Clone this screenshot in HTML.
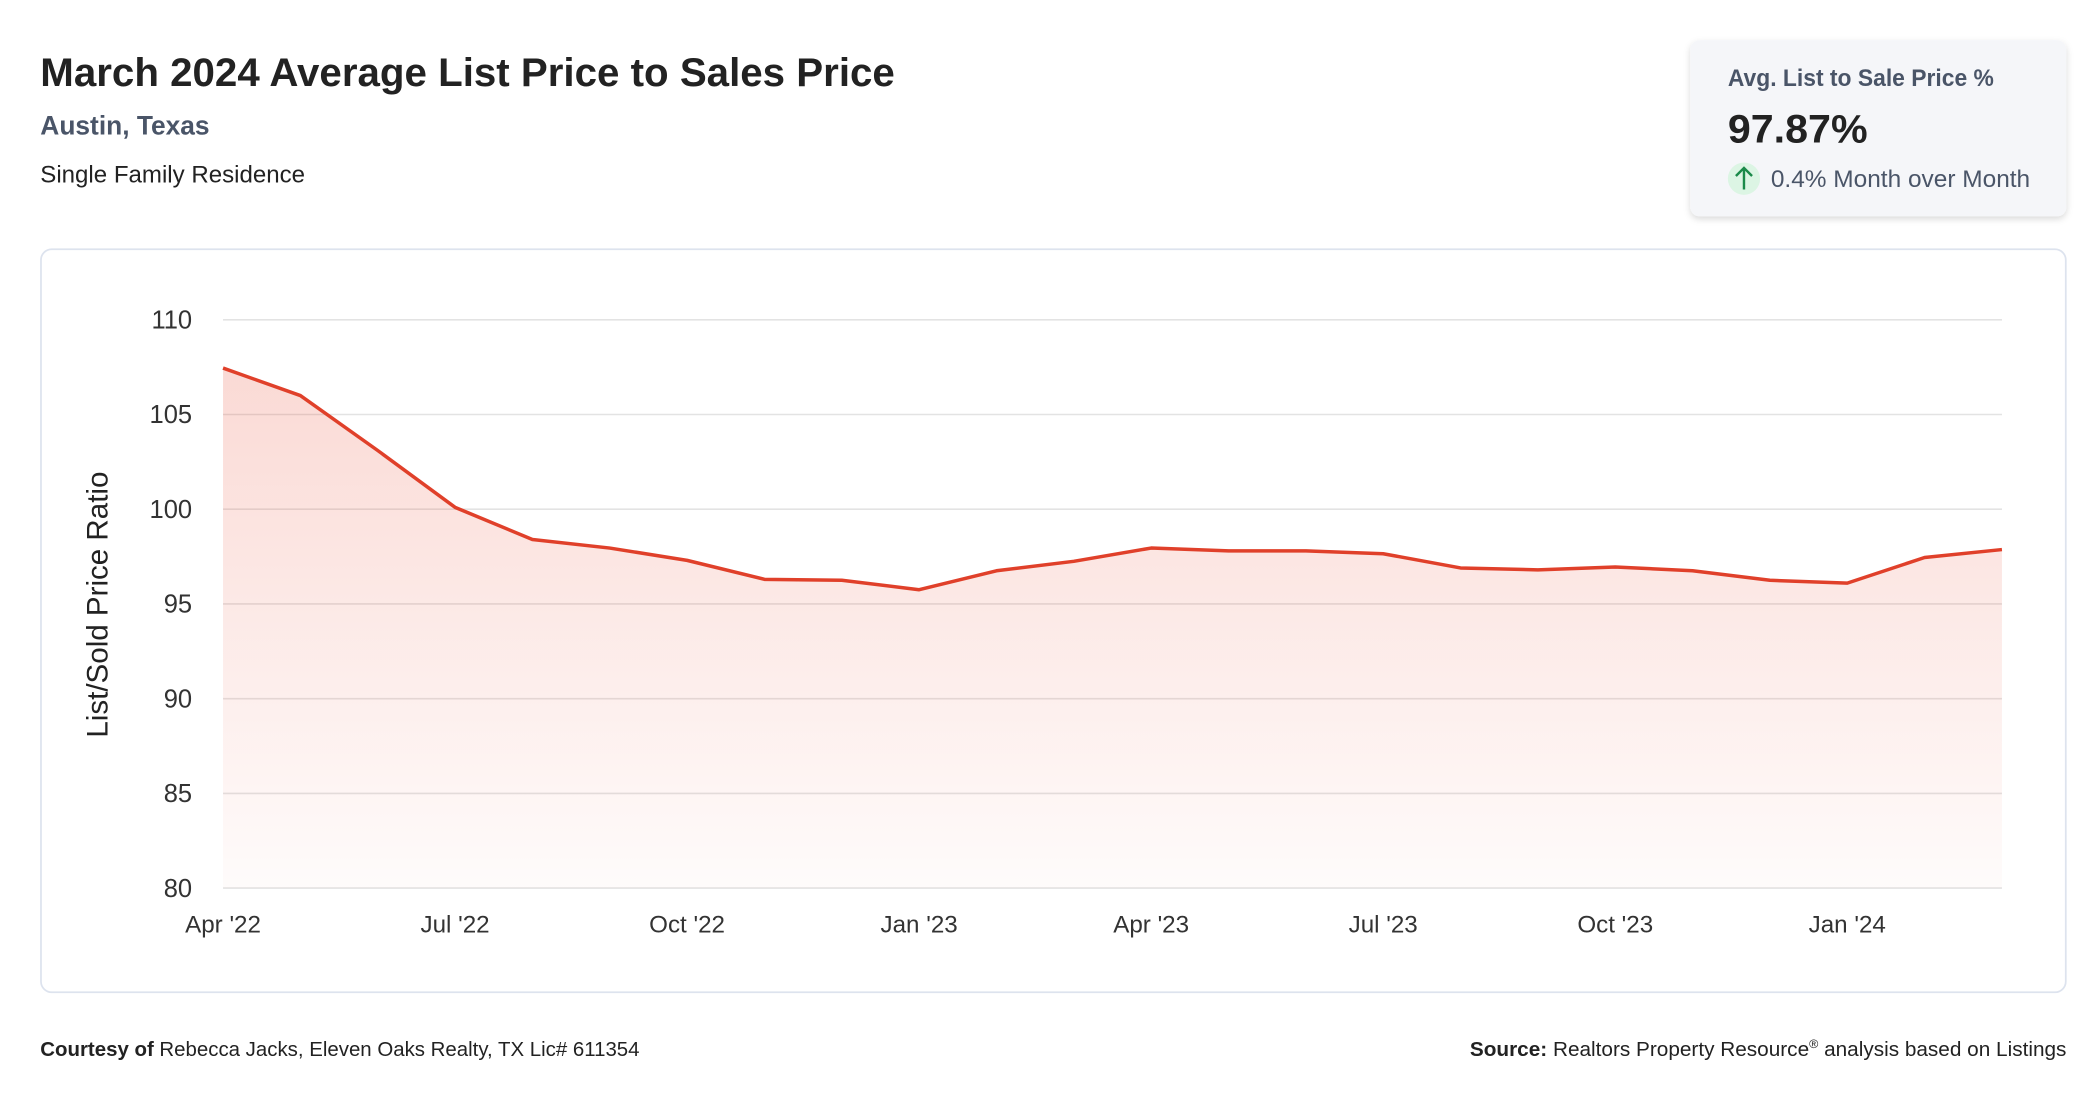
<!DOCTYPE html>
<html><head><meta charset="utf-8">
<style>
html,body{margin:0;padding:0;background:#fff;width:2096px;height:1100px;overflow:hidden}
svg{display:block;font-family:"Liberation Sans",Arial,sans-serif}
</style></head>
<body>
<svg id="root" width="2096" height="1100" viewBox="0 0 1560 818.7">
<defs>
<linearGradient id="areaGrad" x1="0" y1="0" x2="0" y2="1">
<stop offset="0" stop-color="#e8452c" stop-opacity="0.2"/>
<stop offset="1" stop-color="#e8452c" stop-opacity="0.02"/>
</linearGradient>
<filter id="shadow" x="-10%" y="-10%" width="120%" height="130%">
<feDropShadow dx="0" dy="2" stdDeviation="2.5" flood-color="#000" flood-opacity="0.15"/>
</filter>
</defs>
<text x="30" y="64" font-size="30" font-weight="bold" fill="#222" textLength="636" lengthAdjust="spacingAndGlyphs">March 2024 Average List Price to Sales Price</text>
<text x="30" y="100" font-size="20" font-weight="bold" fill="#4a5568" textLength="126" lengthAdjust="spacingAndGlyphs">Austin, Texas</text>
<text x="30" y="136" font-size="18" fill="#222" textLength="197" lengthAdjust="spacingAndGlyphs">Single Family Residence</text>

<g>
<rect x="1258" y="30" width="280" height="131" rx="7" fill="#f5f6f9" filter="url(#shadow)"/>
<text x="1286" y="64" font-size="18" font-weight="bold" fill="#4a5568" textLength="198" lengthAdjust="spacingAndGlyphs">Avg. List to Sale Price %</text>
<text x="1286" y="106" font-size="30" font-weight="bold" fill="#222" textLength="104" lengthAdjust="spacingAndGlyphs">97.87%</text>
<circle cx="1298" cy="133" r="12" fill="#dcf5e4"/>
<path d="M1298 141 V125 M1292 131 L1298 125 L1304 131" stroke="#1b8a4a" stroke-width="1.8" fill="none"/>
<text x="1318" y="139" font-size="18" fill="#4a5568" textLength="193" lengthAdjust="spacingAndGlyphs">0.4% Month over Month</text>
</g>

<rect x="30.5" y="185.5" width="1507" height="553" rx="8" fill="#fff" stroke="#dde3ee" stroke-width="1.3"/>
<g id="plot"></g>
<text transform="translate(80,450) rotate(-90)" text-anchor="middle" font-size="22" fill="#222">List/Sold Price Ratio</text>

<text x="30" y="786" font-size="15" fill="#222" textLength="446" lengthAdjust="spacingAndGlyphs"><tspan font-weight="bold">Courtesy of</tspan> Rebecca Jacks, Eleven Oaks Realty, TX Lic# 611354</text>
<text x="1538" y="786" font-size="15" fill="#222" text-anchor="end" textLength="444" lengthAdjust="spacingAndGlyphs"><tspan font-weight="bold">Source:</tspan> Realtors Property Resource<tspan font-size="9" dy="-6">®</tspan><tspan dy="6"> analysis based on Listings</tspan></text>
</svg>
<script>
const months = ["Apr '22","May '22","Jun '22","Jul '22","Aug '22","Sep '22","Oct '22","Nov '22","Dec '22","Jan '23","Feb '23","Mar '23","Apr '23","May '23","Jun '23","Jul '23","Aug '23","Sep '23","Oct '23","Nov '23","Dec '23","Jan '24","Feb '24","Mar '24"];
const ratioValues = [107.45,106.0,103.1,100.1,98.4,97.95,97.3,96.3,96.25,95.75,96.75,97.25,97.95,97.8,97.8,97.65,96.9,96.8,96.95,96.75,96.25,96.1,97.45,97.87];
const yTicks = [80,85,90,95,100,105,110];
const xTickLabels = ["Apr '22","Jul '22","Oct '22","Jan '23","Apr '23","Jul '23","Oct '23","Jan '24"];

const NS = "http://www.w3.org/2000/svg";
const plot = document.getElementById('plot');
const X0 = 166, X1 = 1490, Y0 = 661, Y1 = 238, YMIN = 80, YMAX = 110;
function xScale(i){ return X0 + (X1 - X0) * i / (months.length - 1); }
function yScale(v){ return Y0 - (v - YMIN) / (YMAX - YMIN) * (Y0 - Y1); }
function mk(tag, attrs){ const e = document.createElementNS(NS, tag); for (const k in attrs) e.setAttribute(k, attrs[k]); return e; }

yTicks.forEach(t => {
  const y = yScale(t);
  const g = mk('line', {x1: X0, x2: X1, y1: y, y2: y, stroke: '#e3e3e3', 'stroke-width': 1.2});
  
  
  plot.appendChild(g);
  const l = mk('text', {x: 143, y: y + 6.5, 'text-anchor': 'end', 'font-size': 19, fill: '#333'});
  l.textContent = t;
  
  
  plot.appendChild(l);
});

let d = '';
ratioValues.forEach((v, i) => { d += (i ? 'L' : 'M') + xScale(i).toFixed(2) + ' ' + yScale(v).toFixed(2) + ' '; });
const area = mk('path', {d: d + 'L' + xScale(ratioValues.length - 1) + ' ' + Y0 + ' L' + X0 + ' ' + Y0 + ' Z', fill: 'url(#areaGrad)'});


plot.appendChild(area);
const line = mk('path', {d: d, fill: 'none', stroke: '#e0402a', 'stroke-width': 2.6, 'stroke-linejoin': 'round'});


plot.appendChild(line);

xTickLabels.forEach(lbl => {
  const i = months.indexOf(lbl);
  const t = mk('text', {x: xScale(i), y: 694, 'text-anchor': 'middle', 'font-size': 18, fill: '#333'});
  t.textContent = lbl;
  
  
  plot.appendChild(t);
});
</script>
</body></html>
